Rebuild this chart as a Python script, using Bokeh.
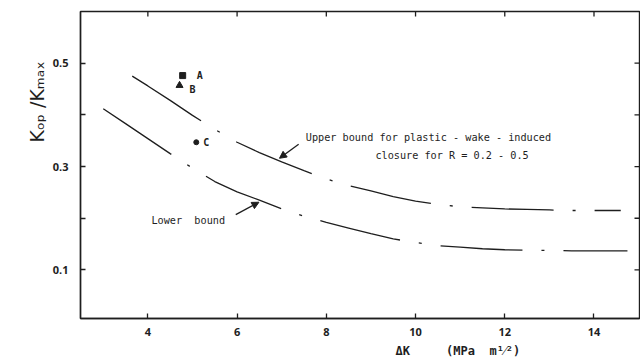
import math
from bokeh.plotting import figure
from bokeh.models import (Label, LinearAxis, FixedTicker, Range1d, Arrow,
                          NormalHead, ColumnDataSource, Title)
from bokeh.core.properties import value
from bokeh.embed import file_html
from bokeh.resources import INLINE

# ---- data ----
upper_dk = [3.65, 4.0, 4.5, 5.0, 5.5, 6.0, 6.5, 7.0, 7.5, 8.0, 8.5, 9.0, 9.5,
            10.0, 10.5, 11.0, 11.5, 12.0, 12.5, 13.0, 13.5, 14.0, 14.6]
upper_ratio = [0.475, 0.456, 0.428, 0.399, 0.372, 0.347, 0.327, 0.309, 0.292,
               0.276, 0.263, 0.253, 0.242, 0.233, 0.227, 0.222, 0.220, 0.218,
               0.217, 0.216, 0.215, 0.215, 0.215]

lower_dk = [3.0, 3.5, 4.0, 4.5, 5.0, 5.5, 6.0, 6.5, 7.0, 7.5, 8.0, 8.5, 9.0,
            9.5, 10.0, 10.5, 11.0, 11.5, 12.0, 12.5, 13.0, 13.5, 14.0, 14.75]
lower_ratio = [0.412, 0.383, 0.354, 0.325, 0.297, 0.271, 0.251, 0.235, 0.218,
               0.204, 0.192, 0.181, 0.170, 0.160, 0.153, 0.147, 0.144, 0.141,
               0.139, 0.138, 0.138, 0.137, 0.137, 0.137]

point_names = ["A", "B", "C"]
point_dk = [4.78, 4.71, 5.085]
point_ratio = [0.476, 0.457, 0.347]
point_markers = ["square", "triangle", "circle"]

x_ticks = [4, 6, 8, 10, 12, 14]
y_major = [0.1, 0.3, 0.5]
y_minor = [0.2, 0.4]
y_all = [0.1, 0.2, 0.3, 0.4, 0.5]

X_START, X_END = 2.49, 15.02
Y_START, Y_END = 0.006, 0.6

# ---- styling ----
INK = "#1e1e1e"
MONO = "DejaVu Sans Mono"
NB = "\u00a0"

p = figure(width=640, height=360, output_backend="svg", toolbar_location=None,
           x_range=Range1d(X_START, X_END), y_range=Range1d(Y_START, Y_END),
           min_border_left=80, min_border_right=1, min_border_top=11,
           min_border_bottom=42, x_axis_location=None, y_axis_location=None)
p.background_fill_color = "white"
p.border_fill_color = "white"
p.grid.visible = False
p.outline_line_color = INK
p.outline_line_width = 1.4


def style_axis(ax, ticker):
    ax.ticker = ticker
    ax.axis_line_color = INK
    ax.axis_line_width = 1.4
    ax.major_tick_line_color = INK
    ax.minor_tick_line_color = INK
    ax.major_tick_line_width = 1.3
    ax.minor_tick_line_width = 1.3
    ax.major_tick_in = 5
    ax.major_tick_out = 0
    ax.minor_tick_in = 5
    ax.minor_tick_out = 0
    ax.major_label_text_font = "Open Sans"
    ax.major_label_text_font_size = "11px"
    ax.major_label_text_font_style = "bold"
    ax.major_label_text_color = INK


bottom = LinearAxis()
style_axis(bottom, FixedTicker(ticks=x_ticks))
bottom.major_label_standoff = 9
p.add_layout(bottom, "below")

left = LinearAxis()
style_axis(left, FixedTicker(ticks=y_major, minor_ticks=y_minor))
left.major_label_standoff = 12
p.add_layout(left, "left")

# inward ticks on the top and right edges of the box
p.ray(x=x_ticks, y=[Y_END] * len(x_ticks), length=5, length_units="screen",
      angle=-math.pi / 2, line_color=INK, line_width=1.3)
p.ray(x=[X_END] * len(y_all), y=y_all, length=5, length_units="screen",
      angle=math.pi, line_color=INK, line_width=1.3)

# ---- curves ----
p.line(upper_dk, upper_ratio, line_color=INK, line_width=1.3,
       line_dash="82 19 3 19")
p.line(lower_dk, lower_ratio, line_color=INK, line_width=1.3,
       line_dash="82 19 3 19")

# ---- data points ----
src = ColumnDataSource(dict(x=point_dk, y=point_ratio, m=point_markers,
                            name=point_names, size=[6, 7, 5],
                            dx=[14, 10, 7], dy=[0, 4, 0]))
p.scatter("x", "y", marker="m", size="size", source=src, fill_color=INK,
          line_color=INK)
p.text("x", "y", text="name", source=src, x_offset="dx", y_offset="dy",
       text_font=value(MONO), text_font_size="10px", text_color=INK,
       text_baseline="middle", text_align="left", text_font_style="bold")

# ---- annotations ----
ann = dict(text_font=MONO, text_font_size="10.2px", text_color=INK,
           text_baseline="middle", text_align="left")
p.add_layout(Label(x=7.54, y=0.356,
                   text="Upper bound for plastic - wake - induced", **ann))
p.add_layout(Label(x=9.10, y=0.321, text="closure for R = 0.2 - 0.5", **ann))
p.add_layout(Label(x=4.08, y=0.196, text="Lower" + NB + NB + "bound", **ann))

head = dict(size=7, fill_color=INK, line_color=INK, line_width=1)
p.add_layout(Arrow(x_start=7.38, y_start=0.343, x_end=6.95, y_end=0.316,
                   line_color=INK, line_width=1.3, end=NormalHead(**head)))
p.add_layout(Arrow(x_start=5.97, y_start=0.207, x_end=6.49, y_end=0.231,
                   line_color=INK, line_width=1.3, end=NormalHead(**head)))

# ---- axis titles (as side titles so they can sit off-centre) ----
ytitle = Title(text="K\u2092\u209a /K\u2098\u2090\u2093", align="left",
               offset=176, standoff=4, text_font="DejaVu Sans",
               text_font_size="19px", text_color=INK,
               text_font_style="normal")
p.add_layout(ytitle, "left")

xtitle = Title(text="\u0394K" + NB * 5 + "(MPa" + NB + NB + "m\u00b9\u2044\u00b2)",
               align="left", offset=315, standoff=6, text_font=MONO,
               text_font_size="12px", text_color=INK, text_font_style="bold")
p.add_layout(xtitle, "below")

open("out.html", "w").write(file_html(p, INLINE))
